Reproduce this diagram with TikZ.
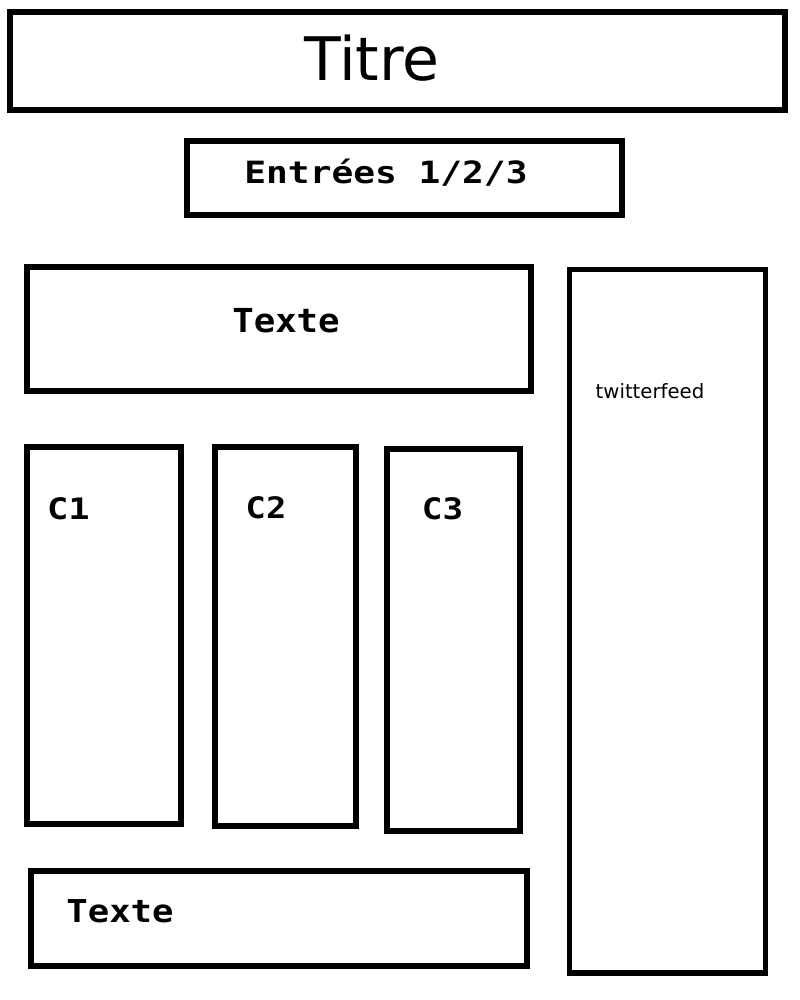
\documentclass[tikz,border=0pt]{standalone}
\usepackage{fontspec}
\setmainfont{DejaVu Sans}
\setmonofont{DejaVu Sans Mono}
\begin{document}
\begin{tikzpicture}[x=0.025cm, y=-0.025cm,
		box/.style={line width=3.6pt},
		lbl/.style={anchor=base, inner sep=0pt, font=\ttfamily\bfseries}]
	\useasboundingbox (0,0) rectangle (800,1000);
	% header
	\draw[box] (10,12) rectangle (785,110);
	\node[anchor=base, inner sep=0pt, font=\fontsize{42.7}{48}\selectfont] (titre) at (372,80) {Titre};
	\draw[box] (187,141) rectangle (622,215);
	\node[lbl, font=\ttfamily\bfseries\fontsize{21.8}{26}\selectfont] (entrees) at (386,183) {\scalebox{1.18}[1]{Entrées 1/2/3}};
	% main part
	\draw[box] (27,267) rectangle (531,391);
	\node[lbl, font=\ttfamily\bfseries\fontsize{23.5}{28}\selectfont] (texte) at (286,332) {\scalebox{1.08}[1]{Texte}};
	\draw[box] (27,447) rectangle (181,824);
	\node[lbl, font=\ttfamily\bfseries\fontsize{21}{24}\selectfont] (c1) at (68.5,519) {\scalebox{1.2}[1]{C1}};
	\draw[box] (215,447) rectangle (356,826);
	\node[lbl, font=\ttfamily\bfseries\fontsize{21}{24}\selectfont] (c2) at (266,518) {\scalebox{1.14}[1]{C2}};
	\draw[box] (387,449) rectangle (520,831);
	\node[lbl, font=\ttfamily\bfseries\fontsize{21}{24}\selectfont] (c3) at (442.5,519) {\scalebox{1.16}[1]{C3}};
	\draw[box] (31,871) rectangle (527,966);
	\node[lbl, font=\ttfamily\bfseries\fontsize{22.4}{27}\selectfont] (bas) at (120,922) {\scalebox{1.13}[1]{Texte}};
	% side bar
	\draw[box] (569.5,269.5) rectangle (765.5,973);
	\node[anchor=base, inner sep=0pt, font=\fontsize{14}{17}\selectfont] (twitter) at (650,398) {twitterfeed};
\end{tikzpicture}
\end{document}
